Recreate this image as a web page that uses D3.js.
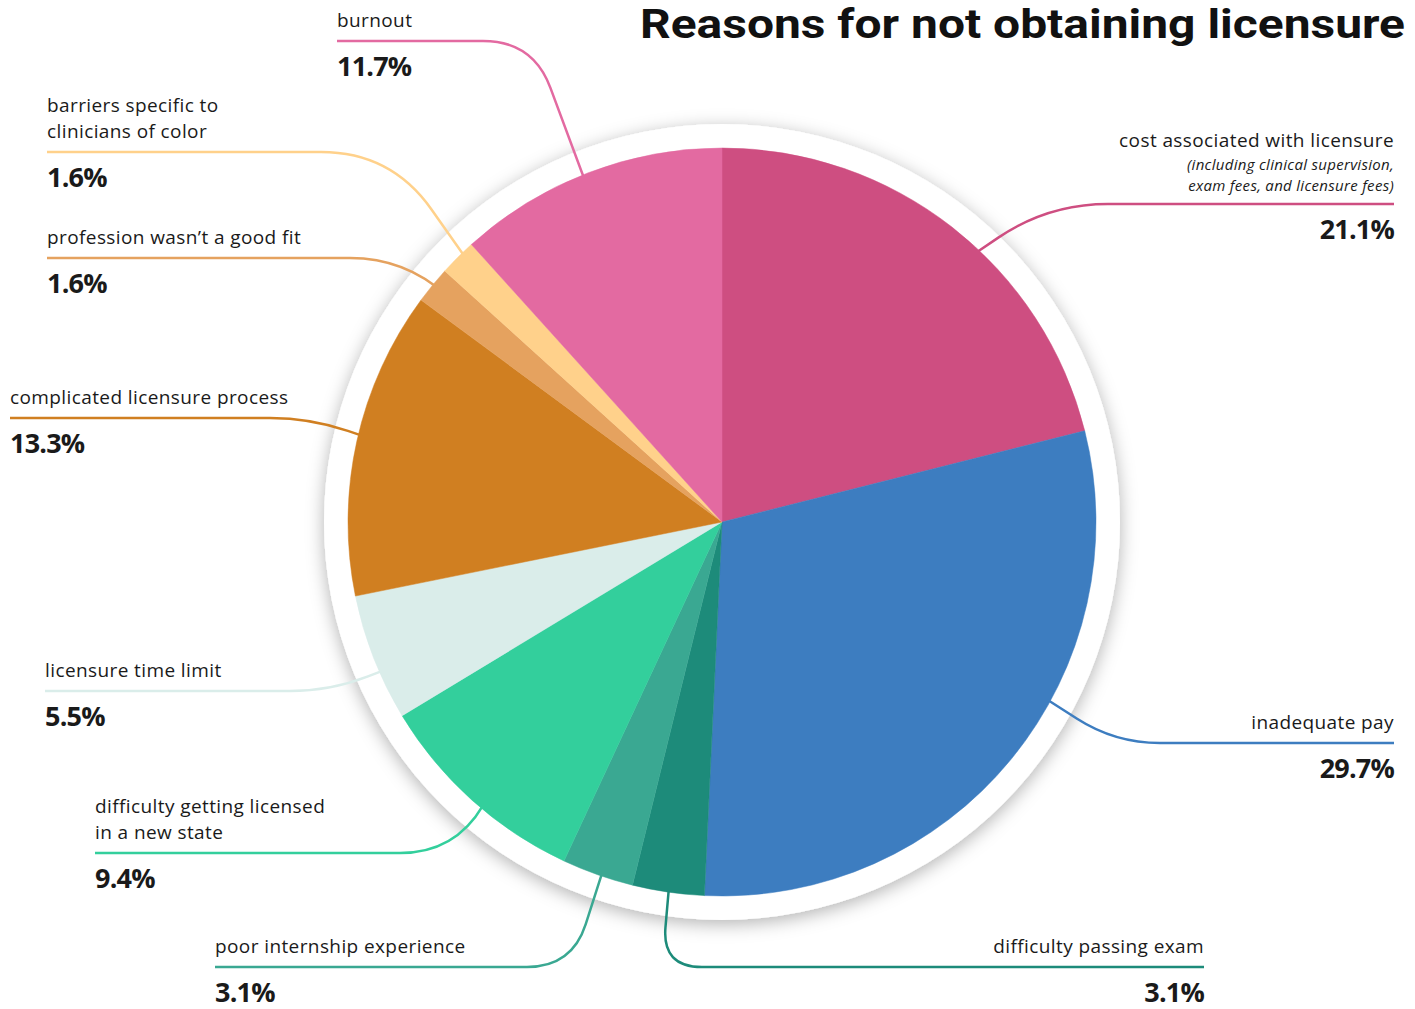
<!DOCTYPE html>
<html>
<head>
<meta charset="utf-8">
<script src="https://cdn.jsdelivr.net/npm/d3@7"></script>
<style>
  body { margin: 0; background: #fff; }
  svg { display: block; font-family: "Open Sans", "Noto Sans", sans-serif; }
</style>
</head>
<body>
<div id="chart"></div>
<script>
// data
var categories = ["cost associated with licensure", "inadequate pay", "difficulty passing exam",
    "poor internship experience", "difficulty getting licensed in a new state", "licensure time limit",
    "complicated licensure process", "profession wasn’t a good fit",
    "barriers specific to clinicians of color", "burnout"];
var values = [21.1, 29.7, 3.1, 3.1, 9.4, 5.5, 13.3, 1.6, 1.6, 11.7];
var colors = ["#CE4E81", "#3D7DC0", "#1D8B7A", "#3AA892", "#33CF9C", "#DAEDEA",
    "#D07F21", "#E5A25F", "#FFD18B", "#E36AA1"];
var labelLines = [
    ["cost associated with licensure"], ["inadequate pay"], ["difficulty passing exam"],
    ["poor internship experience"], ["difficulty getting licensed", "in a new state"],
    ["licensure time limit"], ["complicated licensure process"], ["profession wasn’t a good fit"],
    ["barriers specific to", "clinicians of color"], ["burnout"]];
var costNote = ["(including clinical supervision,", "exam fees, and licensure fees)"];

// label layout: where the leader leaves the slice (t = fraction along the slice),
// the horizontal rule (y, x0..), the elbow x and the rounding radius
var layout = [
    {t: 0.57, y: 204, x0: 1394, ex: 1048, r: 60, anchor: "end"},
    {t: 0.40, y: 743, x0: 1394, ex: 1115, r: 45, anchor: "end"},
    {t: 0.50, y: 967, x0: 1204, ex: 662, r: 40, anchor: "end"},
    {t: 0.45, y: 967, x0: 215, ex: 572, r: 45, anchor: "start"},
    {t: 0.45, y: 853, x0: 95, ex: 455, r: 55, anchor: "start"},
    {t: 0.38, y: 691, x0: 45, ex: 330, r: 40, anchor: "start"},
    {t: 0.52, y: 418, x0: 10, ex: 310, r: 40, anchor: "start"},
    {t: 0.54, y: 258, x0: 47, ex: 405, r: 55, anchor: "start"},
    {t: 0.64, y: 152, x0: 47, ex: 391, r: 70, anchor: "start"},
    {t: 0.48, y: 41, x0: 337, ex: 533, r: 50, anchor: "start"}
];

var width = 1415, height = 1009;
var cx = 722, cy = 522, radius = 374, ringR = 398;

var svg = d3.select("#chart").append("svg")
    .attr("width", width)
    .attr("height", height);

var defs = svg.append("defs");
var filter = defs.append("filter").attr("id", "shadow")
    .attr("x", "-20%").attr("y", "-20%").attr("width", "140%").attr("height", "140%");
filter.append("feDropShadow")
    .attr("dx", 0).attr("dy", 4)
    .attr("stdDeviation", 9)
    .attr("flood-color", "#000")
    .attr("flood-opacity", 0.3);

// white ring with shadow
svg.append("circle")
    .attr("cx", cx).attr("cy", cy).attr("r", ringR)
    .attr("fill", "#fff")
    .attr("filter", "url(#shadow)");

var pie = d3.pie().sort(null).value(function (d) { return d; });
var arcs = pie(values);
var arc = d3.arc().innerRadius(0).outerRadius(radius);

// leader lines (under the pie)
var lines = svg.append("g").attr("fill", "none").attr("stroke-width", 2.5);
arcs.forEach(function (a, i) {
    var L = layout[i];
    var ang = a.startAngle + (a.endAngle - a.startAngle) * L.t;
    var sx = cx + (radius - 6) * Math.sin(ang);
    var sy = cy - (radius - 6) * Math.cos(ang);
    var ex = L.ex, ey = L.y;
    var dx = sx - ex, dy = sy - ey;
    var len = Math.sqrt(dx * dx + dy * dy);
    var ax = ex + dx / len * L.r, ay = ey + dy / len * L.r;
    var dir = L.x0 > ex ? 1 : -1;
    var p = d3.path();
    p.moveTo(sx, sy);
    p.lineTo(ax, ay);
    p.quadraticCurveTo(ex, ey, ex + dir * L.r, ey);
    p.lineTo(L.x0, ey);
    lines.append("path").attr("d", p.toString()).attr("stroke", colors[i]);
});

// pie
svg.append("g")
    .attr("transform", "translate(" + cx + "," + cy + ")")
    .selectAll("path")
    .data(arcs)
    .enter()
    .append("path")
    .attr("d", arc)
    .attr("fill", function (d, i) { return colors[i]; })
    .attr("stroke", function (d, i) { return colors[i]; })
    .attr("stroke-width", 0.5);

// labels
var labels = svg.append("g").attr("fill", "#1a1a1a");
layout.forEach(function (L, i) {
    var txt = labelLines[i];
    var nameBottom = i === 0 ? L.y - 57 : L.y - 14;
    txt.forEach(function (t, k) {
        labels.append("text")
            .attr("x", L.x0)
            .attr("y", nameBottom - (txt.length - 1 - k) * 26)
            .attr("text-anchor", L.anchor)
            .attr("font-size", 19)
            .attr("letter-spacing", 0.4)
            .text(t);
    });
    if (i === 0) {
        costNote.forEach(function (t, k) {
            labels.append("text")
                .attr("x", L.x0)
                .attr("y", L.y - 34 + k * 21)
                .attr("text-anchor", "end")
                .attr("font-size", 15)
                .attr("letter-spacing", 0.3)
                .attr("font-style", "italic")
                .text(t);
        });
    }
    labels.append("text")
        .attr("x", L.x0)
        .attr("y", L.y + 35)
        .attr("text-anchor", L.anchor)
        .attr("font-size", 27)
        .attr("font-weight", "bold")
        .attr("letter-spacing", -0.8)
        .text(d3.format(".1f")(values[i]) + "%");
});

// title
svg.append("text")
    .attr("x", 1405)
    .attr("y", 38)
    .attr("text-anchor", "end")
    .attr("font-family", "Roboto, sans-serif")
    .attr("font-size", 40)
    .attr("font-weight", "bold")
    .attr("fill", "#111")
    .attr("textLength", 765)
    .attr("lengthAdjust", "spacingAndGlyphs")
    .text("Reasons for not obtaining licensure");
</script>
</body>
</html>
